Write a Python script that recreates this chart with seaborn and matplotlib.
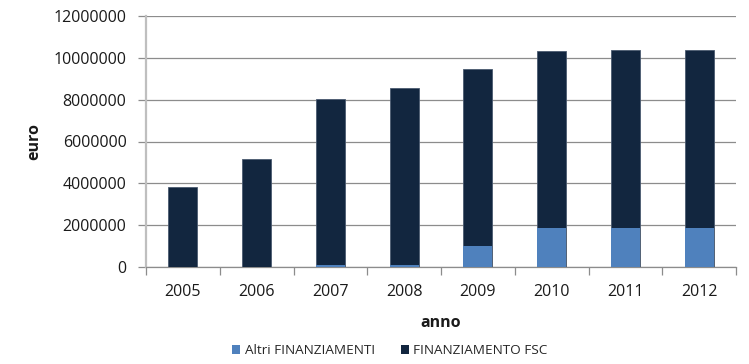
import matplotlib
matplotlib.use("Agg")
import matplotlib.pyplot as plt
from matplotlib.patches import Patch
from matplotlib.ticker import FixedLocator
import numpy as np
import pandas as pd
import seaborn as sns

# Funding per year, in euro
anni = ["2005", "2006", "2007", "2008", "2009", "2010", "2011", "2012"]
altri_finanziamenti = [0, 0, 80000, 80000, 1020000, 1860000, 1860000, 1860000]
finanziamento_fsc = [3830000, 5150000, 7960000, 8500000, 8460000, 8450000, 8500000, 8500000]
y_ticks = [0, 2000000, 4000000, 6000000, 8000000, 10000000, 12000000]

col_altri = "#4f81bd"
col_fsc = "#12263f"

sns.set_theme(style="white")
plt.rcParams["font.family"] = ["Open Sans", "DejaVu Sans"]

df = pd.DataFrame({
    "anno": anni,
    "altri": altri_finanziamenti,
    "fsc": finanziamento_fsc,
})
df["totale"] = df["altri"] + df["fsc"]

fig = plt.figure(figsize=(7.49, 3.64), dpi=100)
ax = fig.add_axes([146 / 749, 1 - 267 / 364, 590 / 749, 251 / 364])

# stacked bars: full height in dark, lower segment in light blue
sns.barplot(data=df, x="anno", y="totale", color=col_fsc, width=0.39,
            saturation=1, ax=ax, edgecolor="#4a5a70", linewidth=0.6, zorder=3)
sns.barplot(data=df, x="anno", y="altri", color=col_altri, width=0.39,
            saturation=1, ax=ax, edgecolor="#8fb0d8", linewidth=0.0, zorder=4)

ax.set_xlim(-0.5, len(anni) - 0.5)
ax.set_ylim(0, 12000000)
ax.set_yticks(y_ticks)
ax.set_yticklabels([str(v) for v in y_ticks])
ax.yaxis.grid(True, color="#8c8c8c", linewidth=0.9, zorder=0)
ax.set_axisbelow(True)

ax.xaxis.set_minor_locator(FixedLocator(np.arange(-0.5, len(anni), 1.0)))
ax.tick_params(axis="x", which="major", length=0, pad=12, labelsize=11.5, colors="#1a1a1a")
ax.tick_params(axis="x", which="minor", length=6, width=0.9, color="#8c8c8c", direction="out", bottom=True)
ax.tick_params(axis="y", which="major", length=6, width=0.9, color="#8c8c8c", direction="out",
               left=True, pad=8, labelsize=11.5, labelcolor="#1a1a1a")

for side in ("top", "right"):
    ax.spines[side].set_visible(False)
ax.spines["left"].set_color("#bfbfbf")
ax.spines["left"].set_linewidth(1.6)
ax.spines["bottom"].set_color("#8c8c8c")
ax.spines["bottom"].set_linewidth(0.9)

ax.set_xlabel("anno", fontsize=11.5, fontweight="bold", labelpad=11, color="#1a1a1a")
ax.set_ylabel("euro", fontsize=11.5, fontweight="bold", labelpad=8, color="#1a1a1a")

handles = [Patch(facecolor=col_altri, edgecolor="none", label="Altri FINANZIAMENTI"),
           Patch(facecolor=col_fsc, edgecolor="none", label="FINANZIAMENTO FSC")]
fig.legend(handles=handles, loc="center", bbox_to_anchor=(390 / 749, 1 - 351 / 364),
           ncol=2, frameon=False, fontsize=9.7, handlelength=0.6, handleheight=0.6,
           handletextpad=0.35, columnspacing=1.9)

fig.savefig("out.png", dpi=100)
